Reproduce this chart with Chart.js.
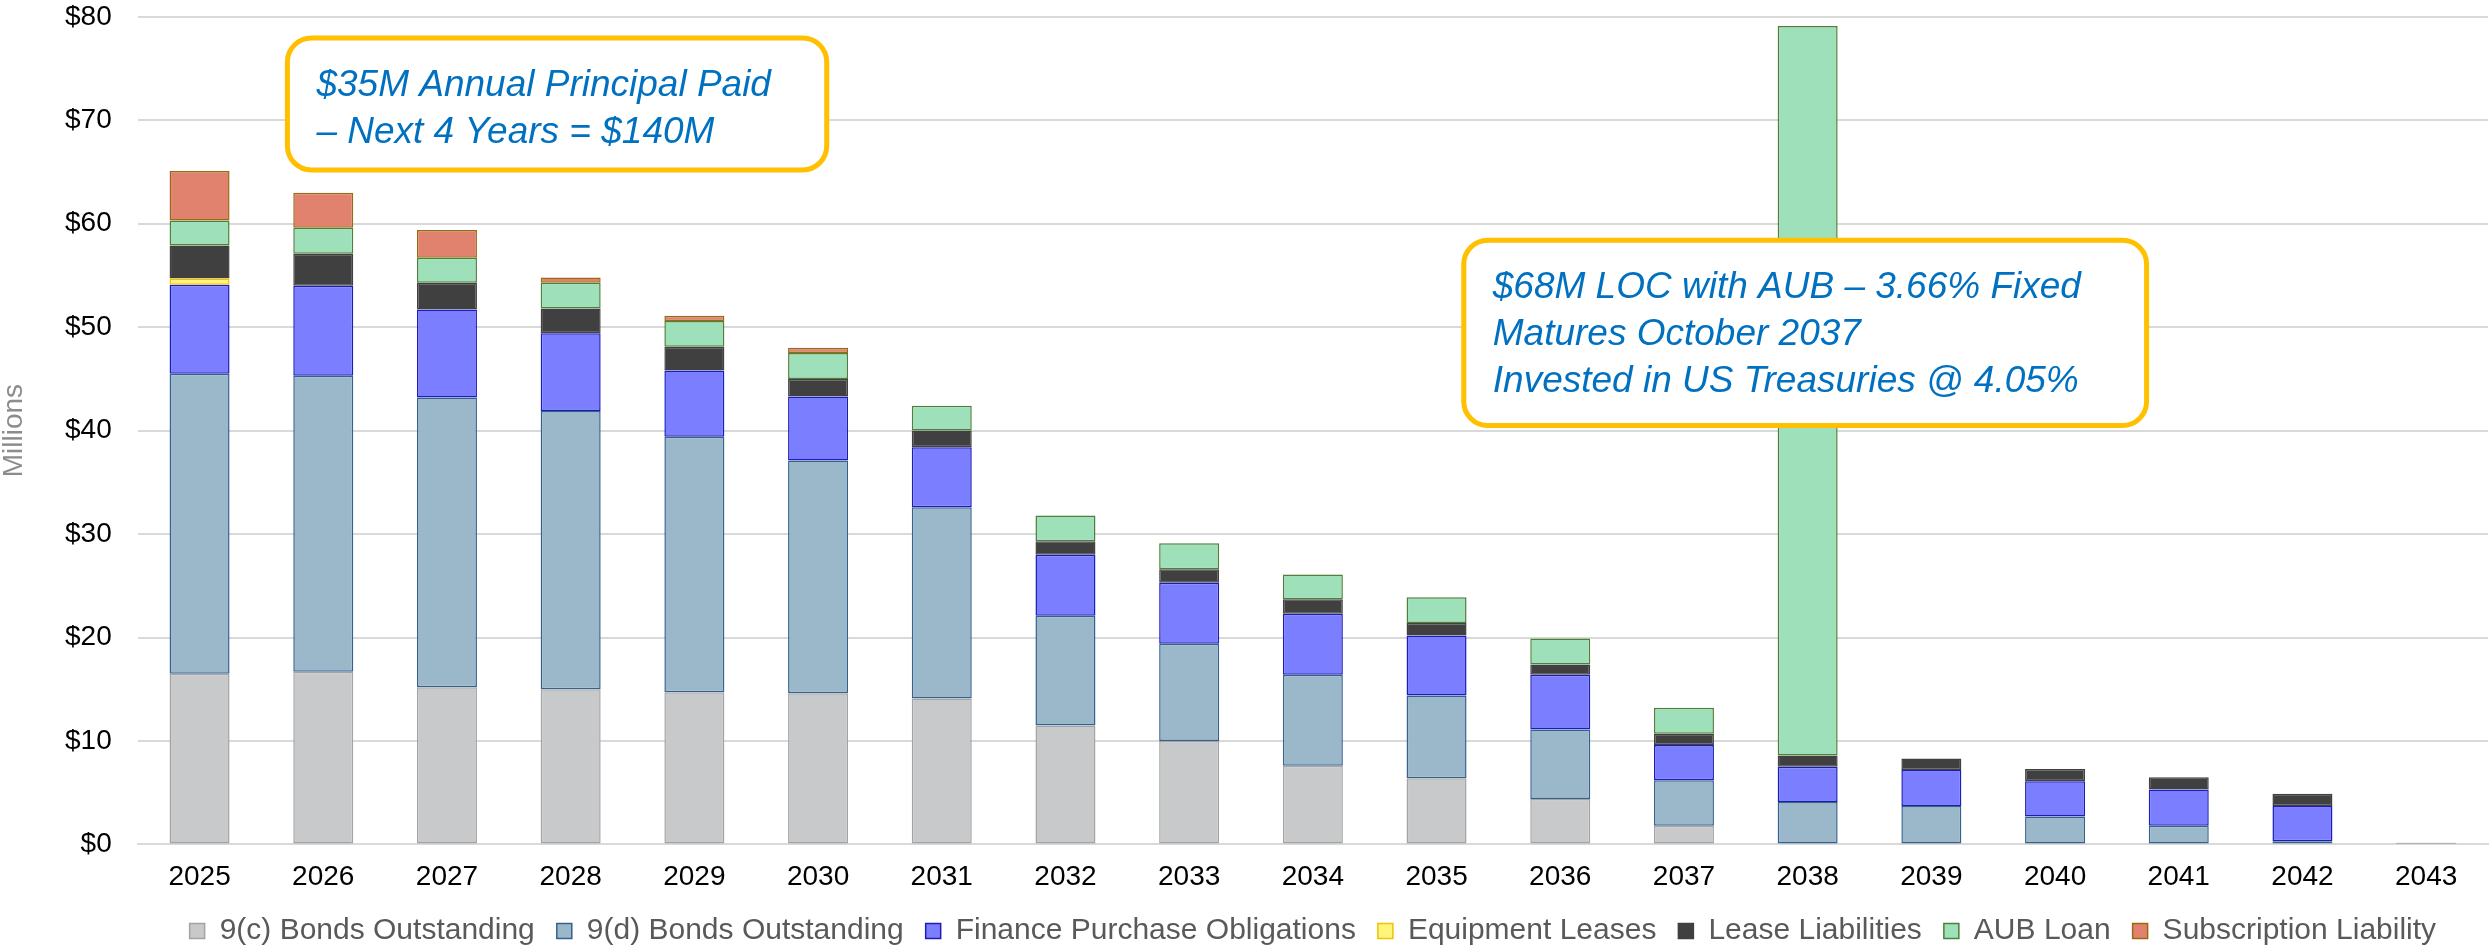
<!DOCTYPE html>
<html>
<head>
<meta charset="utf-8">
<script src="https://cdn.jsdelivr.net/npm/chart.js@4.4.1/dist/chart.umd.min.js"></script>
<style>
  html, body { margin: 0; padding: 0; background: #fff; }
  #wrap { width: 2491px; height: 947px; position: relative; }
</style>
</head>
<body>
<div id="wrap"><canvas id="debt"></canvas></div>
<script>
const years = ["2025", "2026", "2027", "2028", "2029", "2030", "2031", "2032", "2033", "2034",
               "2035", "2036", "2037", "2038", "2039", "2040", "2041", "2042", "2043"];

// values in $ millions
const bonds9c     = [16.5, 16.7, 15.2, 15.0, 14.7, 14.6, 14.1, 11.5, 10.0, 7.6, 6.4, 4.4, 1.8, 0, 0, 0, 0, 0, 0];
const bonds9d     = [29.0, 28.6, 28.0, 26.9, 24.7, 22.5, 18.5, 10.6, 9.4, 8.8, 8.0, 6.7, 4.4, 4.1, 3.7, 2.7, 1.8, 0.3, 0];
const financePO   = [8.6, 8.7, 8.5, 7.5, 6.4, 6.2, 5.8, 5.9, 5.9, 5.9, 5.8, 5.3, 3.4, 3.4, 3.5, 3.4, 3.5, 3.4, 0];
const equipLeases = [0.6, 0, 0, 0, 0, 0, 0, 0, 0, 0, 0, 0, 0, 0, 0, 0, 0, 0, 0];
const leaseLiab   = [3.2, 3.1, 2.6, 2.4, 2.3, 1.7, 1.6, 1.3, 1.3, 1.4, 1.2, 1.0, 1.1, 1.1, 1.1, 1.2, 1.2, 1.2, 0.15];
const aubLoan     = [2.4, 2.5, 2.4, 2.5, 2.5, 2.5, 2.4, 2.5, 2.5, 2.4, 2.5, 2.5, 2.5, 70.5, 0, 0, 0, 0, 0];
const subscrLiab  = [4.8, 3.4, 2.7, 0.5, 0.5, 0.5, 0, 0, 0, 0, 0, 0, 0, 0, 0, 0, 0, 0, 0];

const yTicks = [0, 10, 20, 30, 40, 50, 60, 70, 80];

const notes = [
    { x0: 0.71, x1: 5.07, y0: 77.95, y1: 65.2,
      lines: ["$35M Annual Principal Paid", "\u2013 Next 4 Years = $140M"] },
    { x0: 10.22, x1: 15.74, y0: 58.4, y1: 40.5,
      lines: ["$68M LOC with AUB \u2013 3.66% Fixed", "Matures October 2037", "Invested in US Treasuries @ 4.05%"] }
];

Chart.defaults.font.family = "'Liberation Sans', Arial, sans-serif";

// rounded call-out boxes drawn over the bars
const calloutPlugin = {
    id: 'callouts',
    afterDatasetsDraw(chart) {
        const { ctx, scales: { x, y } } = chart;
        ctx.save();
        notes.forEach(n => {
            const l = x.getPixelForValue(n.x0), r = x.getPixelForValue(n.x1);
            const t = y.getPixelForValue(n.y0), b = y.getPixelForValue(n.y1);
            ctx.beginPath();
            ctx.roundRect(l, t, r - l, b - t, 24);
            ctx.fillStyle = '#ffffff';
            ctx.fill();
            ctx.lineWidth = 5;
            ctx.strokeStyle = '#FFC000';
            ctx.stroke();
            ctx.fillStyle = '#0070C0';
            ctx.font = "italic 37px 'Liberation Sans', Arial, sans-serif";
            ctx.textBaseline = 'alphabetic';
            ctx.textAlign = 'left';
            n.lines.forEach((s, i) => ctx.fillText(s, l + 29, t + 58 + i * 46.7));
        });
        ctx.restore();
    }
};

function ds(label, data, fill, border) {
    return {
        label, data,
        backgroundColor: fill,
        borderColor: border,
        borderWidth: 1.5,
        borderSkipped: false,
        categoryPercentage: 1,
        barPercentage: 0.485
    };
}

new Chart(document.getElementById('debt'), {
    type: 'bar',
    data: {
        labels: years,
        datasets: [
            ds('9(c) Bonds Outstanding', bonds9c, '#C8C9CB', '#A3A3A3'),
            ds('9(d) Bonds Outstanding', bonds9d, '#9AB8CA', '#35618F'),
            ds('Finance Purchase Obligations', financePO, '#7B7FFF', '#1C1CB8'),
            ds('Equipment Leases', equipLeases, '#FFF57A', '#F2C200'),
            ds('Lease Liabilities', leaseLiab, '#404040', '#404040'),
            ds('AUB Loan', aubLoan, '#9DE0BA', '#4F7F3A'),
            ds('Subscription Liability', subscrLiab, '#E0826E', '#9A6A12')
        ]
    },
    options: {
        responsive: true,
        maintainAspectRatio: false,
        animation: false,
        layout: { padding: { left: 0, right: 3, top: 0, bottom: -9 } },
        plugins: {
            legend: {
                position: 'bottom',
                fullSize: false,
                labels: {
                    boxWidth: 15,
                    boxHeight: 15,
                    padding: 22,
                    color: '#595959',
                    font: { size: 30 }
                }
            },
            tooltip: { enabled: false }
        },
        scales: {
            x: {
                stacked: true,
                grid: { display: false, drawTicks: true, tickLength: 16, tickColor: 'rgba(0,0,0,0)' },
                border: { display: true, color: '#D9D9D9', width: 2 },
                ticks: {
                    color: '#000000',
                    font: { size: 28 },
                    padding: 0,
                    maxRotation: 0,
                    autoSkip: false
                }
            },
            y: {
                stacked: true,
                min: 0,
                max: 80,
                afterBuildTicks(axis) { axis.ticks = yTicks.map(v => ({ value: v })); },
                grid: { color: '#D9D9D9', lineWidth: 2, drawTicks: true, tickLength: 26, tickColor: 'rgba(0,0,0,0)' },
                border: { display: false },
                ticks: {
                    color: '#000000',
                    font: { size: 28 },
                    padding: 0,
                    callback: v => '$' + v
                },
                title: {
                    display: true,
                    text: 'Millions',
                    color: '#8C8C8C',
                    font: { size: 28, lineHeight: 1.0 },
                    padding: { top: 0, bottom: 37 }
                }
            }
        }
    },
    plugins: [calloutPlugin]
});
</script>
</body>
</html>
